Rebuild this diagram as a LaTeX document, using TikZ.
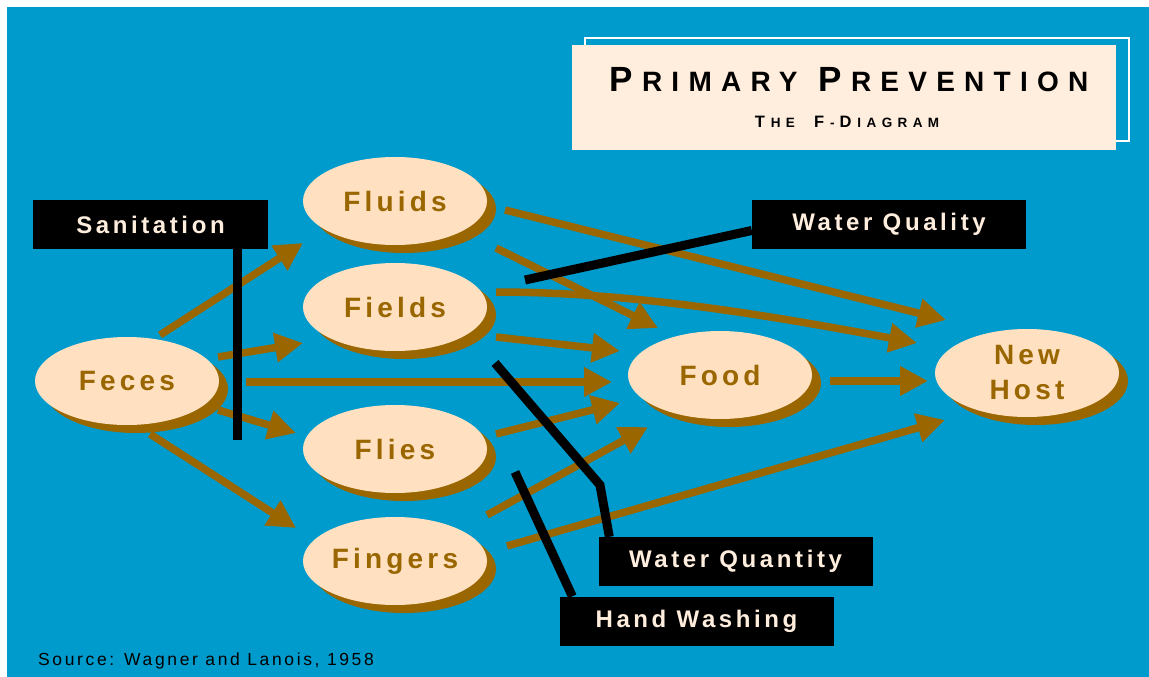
\documentclass[tikz,border=0pt]{standalone}
\usepackage{fontspec}
\usetikzlibrary{arrows.meta, calc, shapes.geometric, shadows}
\newfontfamily\lblfont[LetterSpace=15]{Liberation Sans}
\newfontfamily\ttlfont[LetterSpace=33]{Liberation Sans}
\newfontfamily\subfont[LetterSpace=40]{Liberation Sans}
% small caps by hand
\newcommand{\ttlcap}[1]{{\fontsize{35}{35}\selectfont #1}\hspace{9pt}}
\newcommand{\subcap}[1]{{\fontsize{16.5}{17}\selectfont #1}\hspace{6pt}}
\definecolor{bgblue}{RGB}{0,155,205}
\definecolor{fbrown}{RGB}{153,102,0}
\definecolor{fpeach}{RGB}{255,225,194}
\definecolor{tcream}{RGB}{255,238,222}

\begin{document}
\begin{tikzpicture}[x=1pt, y=-1pt,
    fnode/.style={ellipse, fill=fpeach, minimum width=184pt, minimum height=88pt, inner sep=0pt,
                  text=fbrown, font=\lblfont\bfseries\fontsize{28}{35}\selectfont, align=center,
                  drop shadow={shadow xshift=9pt, shadow yshift=-8pt, fill=fbrown, opacity=1}},
    barrier/.style={fill=black, text=tcream, minimum height=49pt, inner sep=0pt,
                  font=\lblfont\bfseries\fontsize{24}{24}\selectfont},
    farrow/.style={fbrown, line width=7.5pt, -{Triangle[length=28pt, width=28pt]}},
    bline/.style={black, line width=9pt}]
    \useasboundingbox (0,0) rectangle (1149,677);
    \fill[white] (0,0) rectangle (1149,677);
    \fill[bgblue] (7,7) rectangle (1149,677);

    % title box
    \draw[white, line width=1.5pt] (585,38) rectangle (1129,141);
    \node[fill=tcream, minimum width=544pt, minimum height=105pt, inner sep=0pt] (title) at (844,97.5) {};
    \node[anchor=base, font=\ttlfont\bfseries\fontsize{28}{28}\selectfont] (ttlmain) at (849,92)
        {\ttlcap{P}RIMARY\hspace{21pt}\ttlcap{P}REVENTION};
    \node[anchor=base, font=\subfont\bfseries\fontsize{13.5}{14}\selectfont] (ttlsub) at (847,127)
        {\subcap{T}HE\hspace{19pt}\subcap{F}-\hspace{5pt}\subcap{D}IAGRAM};

    % the F's
    \node[fnode] (feces)   at (127,381) {Feces};
    \node[fnode] (fluids)  at (395,201) {Fluids};
    \node[fnode] (fields)  at (395,307) {Fields};
    \node[fnode] (flies)   at (395,449) {Flies};
    \node[fnode] (fingers) at (395,561) {Fingers};
    \node[fnode] (food)    at (720,375) {Food};
    \node[fnode] (newhost) at (1027,373) {New\\Host};

    % routes
    \draw[farrow] ($(feces)+(33,-46)$) -- ($(fluids)+(-92,42)$);
    \draw[farrow] ($(feces)+(91,-24)$) -- ($(fields)+(-92,36)$);
    \draw[farrow] ($(feces)+(119,1)$) -- ($(food)+(-108,7)$);
    \draw[farrow] ($(feces)+(91,29)$) -- ($(flies)+(-99,-16)$);
    \draw[farrow] ($(feces)+(23,53)$) -- ($(fingers)+(-99,-33)$);
    \draw[farrow] ($(fluids)+(110,9)$) -- ($(newhost)+(-81,-53)$);
    \draw[farrow] ($(fluids)+(101,47)$) -- ($(food)+(-62,-47)$);
    \draw[farrow] ($(fields)+(101,-15)$) .. controls +(140,0) and +(-140,-26) .. ($(newhost)+(-110,-30)$);
    \draw[farrow] ($(fields)+(101,30)$) -- ($(food)+(-100,-24)$);
    \draw[farrow] ($(flies)+(101,-15)$) -- ($(food)+(-100,28)$);
    \draw[farrow] ($(fingers)+(92,-46)$) -- ($(food)+(-72,52)$);
    \draw[farrow] ($(fingers)+(112,-15)$) -- ($(newhost)+(-82,47)$);
    \draw[farrow] ($(food)+(110,6)$) -- ($(newhost)+(-99,8)$);

    % barriers
    \node[barrier, minimum width=235pt] (sanit)     at (150.5,224.5) {Sanitation};
    \node[barrier, minimum width=274pt] (wquality)  at (889,224.5) {Water Quality};
    \node[barrier, minimum width=274pt] (wquantity) at (735.5,561.5) {Water Quantity};
    \node[barrier, minimum width=274pt] (handwash)  at (696.5,621) {Hand Washing};

    \coordinate (sanend) at (237,440);
    \coordinate (wqlend) at (525,280);
    \coordinate (wqnend) at (495,363);
    \coordinate (wqnbend) at (600,485);
    \coordinate (hwend) at (515,472);
    \draw[bline] ([xshift=86.5pt]sanit.south) -- (sanend);
    \draw[bline] ([yshift=-6pt]wquality.west) -- (wqlend);
    \draw[bline] (wqnend) -- (wqnbend) -- ([xshift=11pt]wquantity.north west);
    \draw[bline] (hwend) -- ([xshift=13pt]handwash.north west);

    % source
    \node[anchor=base west, inner sep=0pt, font=\lblfont\fontsize{17.5}{18}\selectfont] (source) at (38,665)
        {Source: Wagner and Lanois, 1958};
\end{tikzpicture}
\end{document}
